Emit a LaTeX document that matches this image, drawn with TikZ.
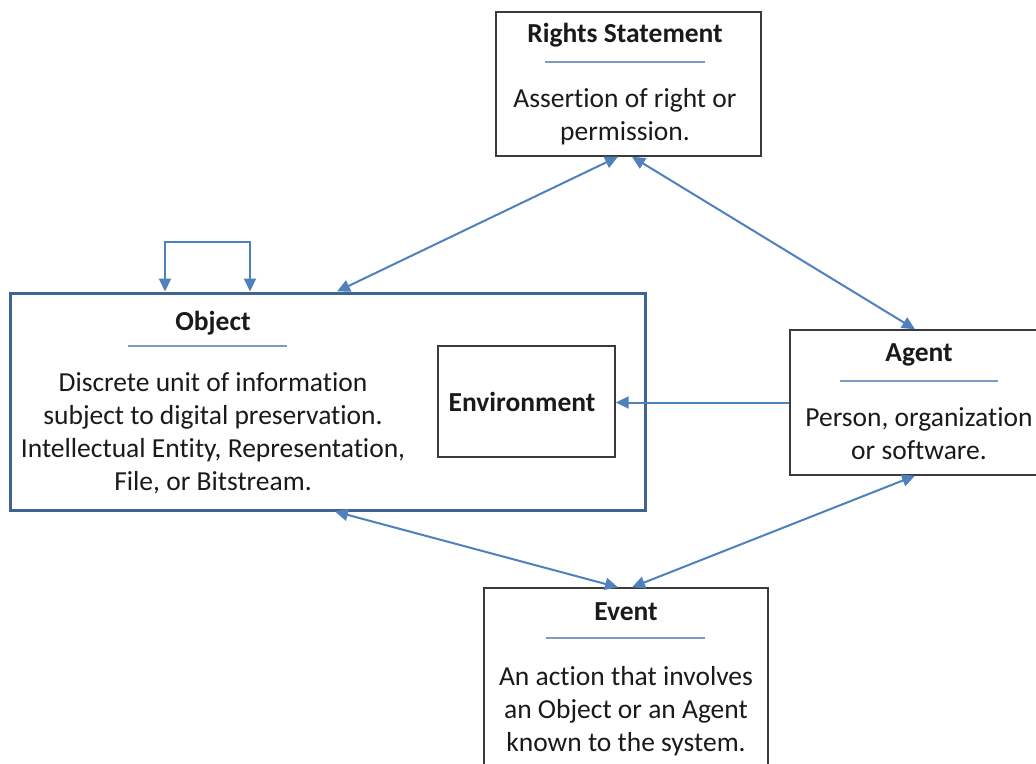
\documentclass[tikz,border=0pt]{standalone}
\usepackage{fontspec}
\setmainfont[Ligatures=NoCommon]{Carlito}
\usetikzlibrary{arrows.meta}
\definecolor{arrowblue}{HTML}{4F81BD}
\definecolor{objblue}{HTML}{3F6394}
\definecolor{ruleblue}{HTML}{7F9AC4}
\definecolor{boxgray}{HTML}{3A3A3A}
\definecolor{txt}{HTML}{1A1A1A}
\begin{document}
\begin{tikzpicture}[x=1pt,y=-1pt,
  box/.style={draw=boxgray,line width=1.4pt,fill=white,rectangle,inner sep=0pt},
  objbox/.style={draw=objblue,line width=3pt,fill=white,rectangle,inner sep=0pt},
  title/.style={font=\fontsize{27.5}{33}\selectfont\bfseries,text=txt,inner sep=0pt,anchor=base},
  body/.style={font=\fontsize{27.5}{32.8}\selectfont,text=txt,align=center,inner sep=0pt,anchor=base},
  rulel/.style={draw=ruleblue,line width=1.3pt},
  conn/.style={draw=arrowblue,line width=2pt,{Triangle[length=13pt,width=12pt]}-{Triangle[length=13pt,width=12pt]}},
  connone/.style={draw=arrowblue,line width=2pt,-{Triangle[length=13pt,width=12pt]}}]
\useasboundingbox (0,0) rectangle (1036,763);
\clip (0,0) rectangle (1036,763);
\fill[white] (0,0) rectangle (1036,763);
% boxes
\node[box,minimum width=265pt,minimum height=144pt] (rights) at (628.5,84) {};
\node[objbox,minimum width=635pt,minimum height=217pt] (obj) at (327.5,401.5) {};
\node[box,minimum width=177pt,minimum height=111pt] (env) at (526.5,401.5) {};
\node[box,minimum width=258pt,minimum height=145pt] (agent) at (919,402.5) {};
\node[box,minimum width=284pt,minimum height=202pt] (event) at (626,689) {};
% texts
\node[title] (rt) at (625,42) {Rights Statement};
\draw[rulel] (545,62) -- (705,62);
\node[body] (rb) at (625,140) {Assertion of right or\\permission.};
\node[title] (ot) at (213,330) {Object};
\draw[rulel] (128,346) -- (287,346);
\node[body] (ob) at (213,490) {Discrete unit of information\\subject to digital preservation.\\Intellectual Entity, Representation,\\File, or Bitstream.};
\node[title] (et) at (522,411) {Environment};
\node[title] (at) at (919,361) {Agent};
\draw[rulel] (840,381) -- (998,381);
\node[body] (ab) at (919,459) {Person, organization\\or software.};
\node[title] (evt) at (626,620) {Event};
\draw[rulel] (546,638) -- (705,638);
\node[body] (evb) at (626,751) {An action that involves\\an Object or an Agent\\known to the system.};
% connectors
\draw[conn] ([xshift=-162.5pt]obj.north) -- ++(0,-50) -| ([xshift=-77.5pt]obj.north);
\draw[conn] ([xshift=9.5pt]obj.north) -- ([xshift=-10.5pt]rights.south);
\draw[conn] ([xshift=3.5pt]rights.south) -- ([xshift=-4pt]agent.north);
\draw[connone] (agent.west) -- (agent.west -| env.east);
\draw[conn] ([xshift=7.5pt]obj.south) -- ([xshift=-8pt]event.north);
\draw[conn] ([xshift=-4pt]agent.south) -- ([xshift=6pt]event.north);
\end{tikzpicture}
\end{document}
